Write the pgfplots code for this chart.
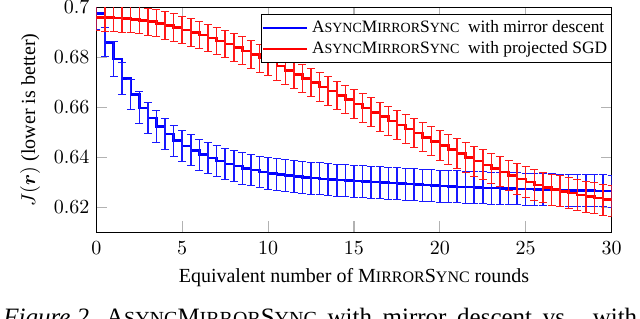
\documentclass[border=0pt]{standalone}
\usepackage{fontspec}
\setmainfont{Liberation Serif}
\usepackage{amsmath}
\usepackage{pgfplots}
\usepackage{pgfplotstable}
\pgfplotsset{compat=1.18}
\newcommand{\scx}[2]{{\fontsize{#1}{#1}\selectfont #2}}
\newcommand{\AMS}[1]{A\scx{#1}{SYNC}M\scx{#1}{IRROR}S\scx{#1}{YNC}}
\newcommand{\MS}[1]{M\scx{#1}{IRROR}S\scx{#1}{YNC}}
\pgfplotstableread{
x y e
0 0.6975 0.0062
0.5 0.6860 0.0058
1.0 0.6793 0.0070
1.5 0.6716 0.0064
2.0 0.6651 0.0059
2.5 0.6598 0.0064
3.0 0.6558 0.0062
3.5 0.6523 0.0063
4.0 0.6493 0.0062
4.5 0.6467 0.0062
5.0 0.6446 0.0062
5.5 0.6428 0.0062
6.0 0.6411 0.0062
6.5 0.6397 0.0062
7.0 0.6385 0.0063
7.5 0.6373 0.0063
8.0 0.6365 0.0063
8.5 0.6356 0.0063
9.0 0.6349 0.0063
9.5 0.6341 0.0063
10.0 0.6335 0.0064
10.5 0.6331 0.0064
11.0 0.6327 0.0064
11.5 0.6323 0.0064
12.0 0.6320 0.0064
12.5 0.6317 0.0064
13.0 0.6314 0.0064
13.5 0.6311 0.0064
14.0 0.6309 0.0064
14.5 0.6307 0.0064
15.0 0.6305 0.0064
15.5 0.6303 0.0064
16.0 0.6301 0.0064
16.5 0.6299 0.0064
17.0 0.6297 0.0064
17.5 0.6295 0.0064
18.0 0.6293 0.0064
18.5 0.6291 0.0064
19.0 0.6289 0.0064
19.5 0.6287 0.0064
20.0 0.6285 0.0064
20.5 0.6283 0.0064
21.0 0.6282 0.0064
21.5 0.6281 0.0064
22.0 0.6279 0.0064
22.5 0.6278 0.0064
23.0 0.6277 0.0064
23.5 0.6276 0.0064
24.0 0.6275 0.0064
24.5 0.6274 0.0064
25.0 0.6273 0.0064
25.5 0.6272 0.0064
26.0 0.6271 0.0064
26.5 0.6270 0.0064
27.0 0.6269 0.0064
27.5 0.6268 0.0064
28.0 0.6267 0.0064
28.5 0.6267 0.0064
29.0 0.6266 0.0064
29.5 0.6266 0.0064
30.0 0.6265 0.0064
}\mirror
\pgfplotstableread{
x y e
0 0.6960 0.0054
0.5 0.6959 0.0054
1.0 0.6957 0.0054
1.5 0.6955 0.0054
2.0 0.6952 0.0054
2.5 0.6948 0.0054
3.0 0.6943 0.0054
3.5 0.6936 0.0054
4.0 0.6928 0.0055
4.5 0.6919 0.0055
5.0 0.6910 0.0055
5.5 0.6900 0.0055
6.0 0.6889 0.0055
6.5 0.6877 0.0055
7.0 0.6865 0.0055
7.5 0.6853 0.0055
8.0 0.6840 0.0056
8.5 0.6826 0.0056
9.0 0.6812 0.0056
9.5 0.6797 0.0056
10.0 0.6782 0.0056
10.5 0.6765 0.0056
11.0 0.6747 0.0056
11.5 0.6731 0.0056
12.0 0.6715 0.0057
12.5 0.6699 0.0057
13.0 0.6682 0.0057
13.5 0.6665 0.0057
14.0 0.6648 0.0057
14.5 0.6631 0.0057
15.0 0.6614 0.0057
15.5 0.6597 0.0057
16.0 0.6580 0.0058
16.5 0.6563 0.0058
17.0 0.6546 0.0058
17.5 0.6530 0.0058
18.0 0.6513 0.0058
18.5 0.6497 0.0058
19.0 0.6480 0.0058
19.5 0.6464 0.0058
20.0 0.6448 0.0059
20.5 0.6432 0.0059
21.0 0.6416 0.0059
21.5 0.6400 0.0059
22.0 0.6385 0.0060
22.5 0.6370 0.0060
23.0 0.6356 0.0060
23.5 0.6342 0.0060
24.0 0.6328 0.0060
24.5 0.6314 0.0061
25.0 0.6301 0.0061
25.5 0.6289 0.0061
26.0 0.6279 0.0061
26.5 0.6271 0.0062
27.0 0.6264 0.0062
27.5 0.6257 0.0062
28.0 0.6250 0.0062
28.5 0.6243 0.0062
29.0 0.6237 0.0062
29.5 0.6231 0.0062
30.0 0.6226 0.0062
}\sgd
\begin{document}
\begin{tikzpicture}
\begin{axis}[
  name=ax,
  scale only axis,
  width=257.7pt, height=112.5pt,
  xmin=0, xmax=30, ymin=0.61, ymax=0.7,
  xtick={0,5,10,15,20,25,30},
  ytick={0.62,0.64,0.66,0.68,0.7},
  tick style={color=gray!60, line width=0.6pt},
  major tick length=5.5pt,
  axis line style={line width=0.8pt},
  tick label style={font=\fontsize{10}{12}\selectfont},
  xticklabel style={yshift=-1pt},
  xlabel={Equivalent number of \MS{8} rounds},
  ylabel={$J(\boldsymbol{r})$ (lower is better)},
  label style={font=\fontsize{10}{12}\selectfont},
  legend style={at={(1,0.97)}, anchor=north east, draw=black, line width=0.6pt,
    font=\fontsize{8.7}{9.6}\selectfont, inner xsep=0pt, inner ysep=1pt,
    row sep=-1pt, cells={anchor=west, line width=0.4pt}},
  legend image code/.code={\draw[#1,line width=1.2pt] (0pt,0pt) -- (22pt,0pt);},
]
\addplot[blue, line width=1.2pt, const plot, mark=none,
  error bars/.cd, y dir=both, y explicit,
  error bar style={blue!90, line width=0.75pt}]
  table[x=x, y=y, y error=e] {\mirror};
\addlegendentry{\AMS{7}\ \ with mirror descent}
\addplot[red, line width=1.2pt, const plot, mark=none,
  error bars/.cd, y dir=both, y explicit,
  error bar style={red!90, line width=0.75pt}]
  table[x=x, y=y, y error=e] {\sgd};
\addlegendentry{\AMS{7}\ \ with projected SGD}
\end{axis}
\node[anchor=base west, inner sep=0pt, font=\fontsize{12.5}{14}\selectfont]
  at ([xshift=-46.7pt, yshift=-46.75pt]ax.south west)
  {\makebox[317pt][s]{\mbox{\textit{Figure 2.}} \AMS{10} with mirror descent vs. with}};
\pgfresetboundingbox
\path[use as bounding box] ([xshift=-48.2pt,yshift=-43.3pt]ax.south west) rectangle ([xshift=14.2pt,yshift=3.7pt]ax.north east);
\end{tikzpicture}
\end{document}
